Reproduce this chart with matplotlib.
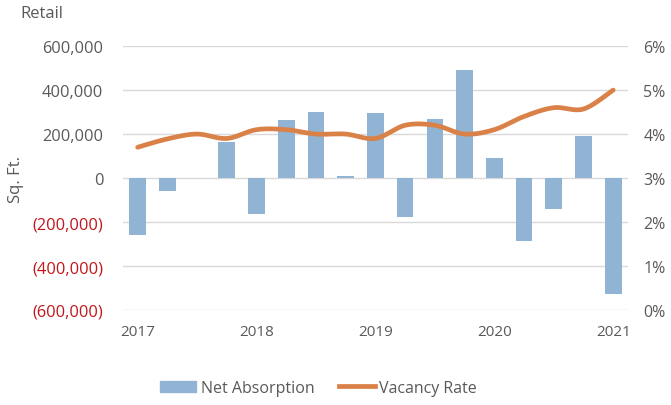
import numpy as np
import matplotlib.pyplot as plt
from matplotlib.patches import Patch
from matplotlib.lines import Line2D

# quarterly retail net absorption and vacancy, 2017 Q1 - 2021 Q1
quarters = ["2017 Q1", "2017 Q2", "2017 Q3", "2017 Q4",
            "2018 Q1", "2018 Q2", "2018 Q3", "2018 Q4",
            "2019 Q1", "2019 Q2", "2019 Q3", "2019 Q4",
            "2020 Q1", "2020 Q2", "2020 Q3", "2020 Q4",
            "2021 Q1"]
net_absorption = [-259000, -57000, 0, 162000,
                  -164000, 265000, 302000, 9000,
                  298000, -177000, 269000, 492000,
                  93000, -286000, -143000, 193000,
                  -528000]
vacancy_rate = [3.70, 3.89, 4.00, 3.90,
                4.10, 4.10, 4.00, 4.00,
                3.90, 4.20, 4.20, 4.00,
                4.10, 4.40, 4.60, 4.57,
                5.00]
year_labels = ["2017", "2018", "2019", "2020", "2021"]
left_ticks = [600000, 400000, 200000, 0, -200000, -400000, -600000]
right_ticks = [0, 1, 2, 3, 4, 5, 6]

bar_color = "#92B4D4"
line_color = "#DA8148"
grid_color = "#D9D9D9"
text_color = "#595959"
neg_color = "#C0161B"


def catmull_rom(x, y, n=24):
    # smooth drawn line through the data points (Excel-style smoothing)
    p = np.column_stack([x, y]).astype(float)
    p = np.vstack([p[0], p, p[-1]])
    out = []
    t = np.linspace(0, 1, n)[:, None]
    for i in range(1, len(p) - 2):
        p0, p1, p2, p3 = p[i - 1], p[i], p[i + 1], p[i + 2]
        seg = 0.5 * (2 * p1 + (-p0 + p2) * t
                     + (2 * p0 - 5 * p1 + 4 * p2 - p3) * t ** 2
                     + (-p0 + 3 * p1 - 3 * p2 + p3) * t ** 3)
        out.append(seg if i == 1 else seg[1:])
    out = np.vstack(out)
    return out[:, 0], out[:, 1]


plt.rcParams["font.family"] = ["Open Sans", "DejaVu Sans"]

fig = plt.figure(figsize=(6.71, 4.06), dpi=100)
ax = fig.add_axes([0.183, 0.234, 0.753, 0.650])
ax2 = ax.twinx()

x = np.arange(len(quarters))
ax.bar(x, net_absorption, width=0.56, color=bar_color, zorder=2)

ax.set_ylim(-600000, 600000)
ax.set_yticks(left_ticks)
labels = []
for v in left_ticks:
    if v < 0:
        labels.append("({:,})".format(-v))
    else:
        labels.append("{:,}".format(v))
ax.set_yticklabels(labels, fontsize=11.8)
for lab, v in zip(ax.get_yticklabels(), left_ticks):
    lab.set_color(neg_color if v < 0 else text_color)
ax.grid(axis="y", color=grid_color, linewidth=1, zorder=0)
ax.set_axisbelow(True)

ax.set_xlim(-0.5, len(quarters) - 0.5)
ax.set_xticks(x[::4])
ax.set_xticklabels(year_labels, fontsize=11, color=text_color)

ax.tick_params(length=0)
ax.tick_params(axis="y", pad=14)
ax.tick_params(axis="x", pad=10)
ax.set_ylabel("Sq. Ft.", fontsize=12, color=text_color, labelpad=6)

sx, sy = catmull_rom(x, vacancy_rate)
ax2.plot(sx, sy, color=line_color, linewidth=3.4, solid_capstyle="round", zorder=3)
ax2.set_ylim(0, 6)
ax2.set_yticks(right_ticks)
ax2.set_yticklabels(["{}%".format(v) for v in right_ticks], fontsize=11.5, color=text_color)
ax2.tick_params(length=0, pad=11)

for a in (ax, ax2):
    for s in a.spines.values():
        s.set_visible(False)

fig.text(0.03, 0.955, "Retail", fontsize=12, color=text_color)

handles = [Patch(color=bar_color), Line2D([], [], color=line_color, linewidth=3.4)]
fig.legend(handles, ["Net Absorption", "Vacancy Rate"], loc="center",
           bbox_to_anchor=(0.475, 0.042), ncol=2, frameon=False,
           fontsize=11.5, labelcolor=text_color, handlelength=2.25,
           handleheight=0.7, columnspacing=1.5, handletextpad=0.3)

fig.savefig("out.png", dpi=100)
